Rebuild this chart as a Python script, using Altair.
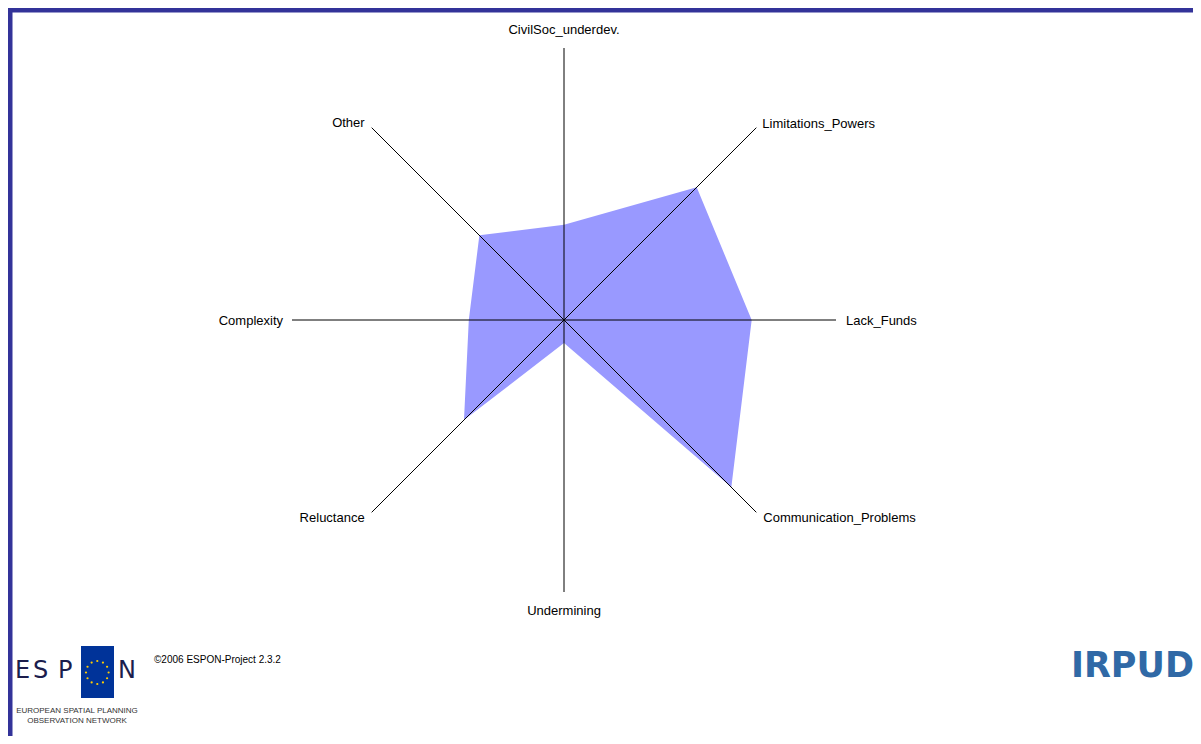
import math
import altair as alt
import pandas as pd

# ---------------- data ----------------
categories = [
    "CivilSoc_underdev.",
    "Limitations_Powers",
    "Lack_Funds",
    "Communication_Problems",
    "Undermining",
    "Reluctance",
    "Complexity",
    "Other",
]
values = [0.35, 0.69, 0.69, 0.87, 0.085, 0.52, 0.35, 0.44]
axis_max = 1.0

copyright_text = "©2006 ESPON-Project 2.3.2"
espon_sub = ["EUROPEAN SPATIAL PLANNING", "OBSERVATION NETWORK"]

# ---------------- geometry (layout) ----------------
W, H = 1185, 728
CX, CY = 556, 312          # plot-area pixel of the radar centre
R = 272                    # pixels for axis_max

n = len(categories)
angles = [math.radians(90 - i * 360 / n) for i in range(n)]

poly = pd.DataFrame({
    "cat": categories,
    "order": list(range(n)),
    "x": [v * math.cos(a) for v, a in zip(values, angles)],
    "y": [v * math.sin(a) for v, a in zip(values, angles)],
})
spokes = pd.DataFrame({
    "cat": categories,
    "x0": [0.0] * n,
    "y0": [0.0] * n,
    "x": [axis_max * math.cos(a) for a in angles],
    "y": [axis_max * math.sin(a) for a in angles],
})

xs = alt.Scale(domain=[-CX / R, (W - CX) / R], nice=False, zero=False)
ys = alt.Scale(domain=[-(H - CY) / R, CY / R], nice=False, zero=False)

area = alt.Chart(poly).mark_line(
    filled=True, interpolate="linear-closed", color="#9999ff"
).encode(
    x=alt.X("x:Q", scale=xs, axis=None),
    y=alt.Y("y:Q", scale=ys, axis=None),
    order="order:Q",
)

rules = alt.Chart(spokes).mark_rule(color="#000000", strokeWidth=1).encode(
    x=alt.X("x0:Q", scale=xs, axis=None),
    y=alt.Y("y0:Q", scale=ys, axis=None),
    x2="x:Q",
    y2="y:Q",
)

# label styles: (align, dx, dy)
label_style = {
    "CivilSoc_underdev.": ("center", 0, -18),
    "Limitations_Powers": ("left", 6, -4),
    "Lack_Funds": ("left", 10, 1),
    "Communication_Problems": ("left", 7, 6),
    "Undermining": ("center", 0, 19),
    "Reluctance": ("right", -7, 6),
    "Complexity": ("right", -9, 1),
    "Other": ("right", -7, -5),
}
label_layers = []
for c in categories:
    al, dx, dy = label_style[c]
    label_layers.append(
        alt.Chart(spokes[spokes.cat == c]).mark_text(
            align=al, baseline="middle", dx=dx, dy=dy,
            font="Liberation Sans", fontSize=13, color="#000000",
        ).encode(
            x=alt.X("x:Q", scale=xs, axis=None),
            y=alt.Y("y:Q", scale=ys, axis=None),
            text="cat:N",
        )
    )

# ---------------- decorations ----------------
one = pd.DataFrame({"k": [0]})
frame_color = "#333399"
frame_top = alt.Chart(one).mark_rule(color=frame_color, strokeWidth=5).encode(
    x=alt.value(0), x2=alt.value(W), y=alt.value(2))
frame_left = alt.Chart(one).mark_rule(color=frame_color, strokeWidth=5).encode(
    x=alt.value(2), y=alt.value(0), y2=alt.value(H))

# ESPON logo
box = alt.Chart(one).mark_rect(color="#003399").encode(
    x=alt.value(73), x2=alt.value(106), y=alt.value(638), y2=alt.value(690))
letters = pd.DataFrame({"t": ["E", "S", "P", "N"], "px": [7, 25, 50, 110], "py": [670] * 4})
logo_letters = alt.Chart(letters).mark_text(
    align="left", baseline="alphabetic", font="DejaVu Sans", fontSize=24, color="#1b1d4d"
).encode(x=alt.X("px:Q", scale=None), y=alt.Y("py:Q", scale=None), text="t:N")
stars = pd.DataFrame({
    "px": [89.3 + 11.3 * math.cos(math.radians(k * 30)) for k in range(12)],
    "py": [664.5 + 11.5 * math.sin(math.radians(k * 30)) for k in range(12)],
})
logo_stars = alt.Chart(stars).mark_point(
    filled=True, shape="circle", size=5, color="#ffcc00", opacity=1
).encode(x=alt.X("px:Q", scale=None), y=alt.Y("py:Q", scale=None))
sub = pd.DataFrame({"t": espon_sub, "px": [69, 69], "py": [703, 712.5]})
logo_sub = alt.Chart(sub).mark_text(
    align="center", baseline="middle", font="Liberation Sans", fontSize=8, color="#333333"
).encode(x=alt.X("px:Q", scale=None), y=alt.Y("py:Q", scale=None), text="t:N")

copy_df = pd.DataFrame({"t": [copyright_text], "px": [146], "py": [652]})
copy_txt = alt.Chart(copy_df).mark_text(
    align="left", baseline="middle", font="Liberation Sans", fontSize=10, color="#000000"
).encode(x=alt.X("px:Q", scale=None), y=alt.Y("py:Q", scale=None), text="t:N")

irpud_df = pd.DataFrame({"t": ["IRPUD"], "px": [1186], "py": [669]})
irpud = alt.Chart(irpud_df).mark_text(
    align="right", baseline="alphabetic", font="DejaVu Sans", fontWeight="bold",
    fontSize=35, color="#3069a6"
).encode(x=alt.X("px:Q", scale=None), y=alt.Y("py:Q", scale=None), text="t:N")

chart = alt.layer(
    area, rules, *label_layers,
    frame_top, frame_left, box, logo_stars, logo_letters, logo_sub, copy_txt, irpud,
).properties(
    width=W, height=H,
    autosize=alt.AutoSizeParams(type="none"),
    padding=0,
    background="white",
).configure_view(stroke=None)

chart.save("out.html", embed_options={"renderer": "svg", "actions": False})
